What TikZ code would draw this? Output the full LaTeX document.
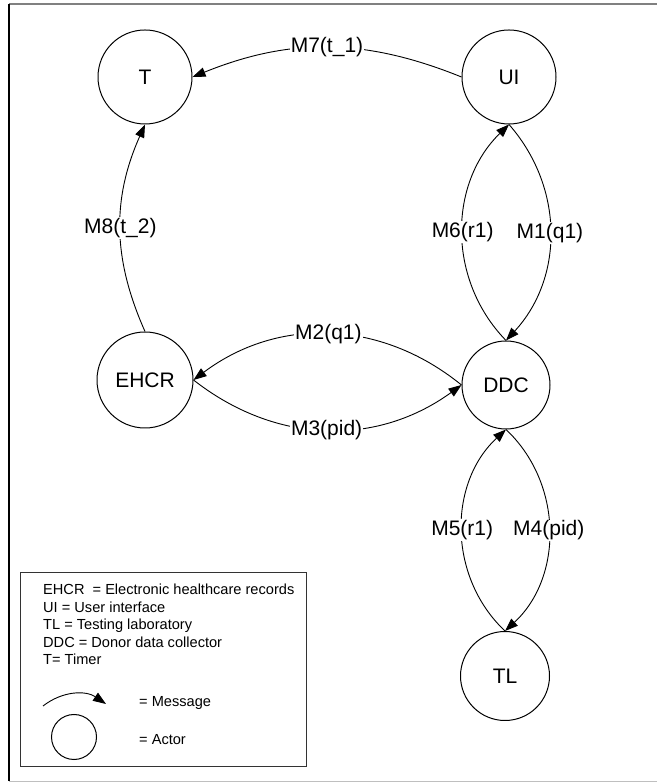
\documentclass[tikz,border=0pt]{standalone}
\usepackage{fontspec}
\setmainfont{Liberation Sans}
\usetikzlibrary{arrows.meta}

\tikzset{
  actor/.style={circle, draw, line width=1pt, minimum size=94pt, inner sep=0pt,
    font=\fontsize{21}{25}\selectfont},
  msg/.style={line width=0.9pt, -{Triangle[length=13pt,width=9.5pt]}},
  msglabel/.style={fill=white, inner sep=1pt, font=\fontsize{21}{25}\selectfont},
  legtext/.style={anchor=base west, inner sep=0pt, font=\fontsize{14.6}{17}\selectfont}
}

\begin{document}
\begin{tikzpicture}[x=1pt,y=1pt]
		\useasboundingbox (0,0) rectangle (657,783);
		% frame
		\draw[gray, line width=2pt] (9,779) -- (657,779);
		\draw[black!25, line width=1.5pt] (9,1.5) -- (657,1.5);
		\draw[line width=1.5pt] (9,779) -- (9,1.5);

		% actors
		\node[actor] (T) at (145,706) {T};
		\node[actor] (UI) at (509,706) {UI};
		\node[actor, minimum size=96pt] (EHCR) at (145,403) {EHCR};
		\node[actor, minimum size=88pt] (DDC) at (506,398) {DDC};
		\node[actor, minimum size=89pt] (TL) at (505,107) {TL};

		% messages
		\draw[msg] (UI.west) to[bend right=22] node[msglabel]{M7(t\_1)} (T.east);
		\draw[msg] (EHCR.north) to[bend left=24] node[msglabel]{M8(t\_2)} (T.south);
		\draw[msg] (DDC.north) to[bend left=45] node[msglabel]{M6(r1)} (UI.south);
		\draw[msg] (UI.south) to[bend left=42] node[msglabel]{M1(q1)} (DDC.north);
		\draw[msg] (DDC.west) to[bend right=38] node[msglabel]{M2(q1)} (EHCR.east);
		\draw[msg] (EHCR.east) to[bend right=37] node[msglabel]{M3(pid)} (DDC.west);
		\draw[msg] (TL.north) to[bend left=47] node[msglabel]{M5(r1)} (DDC.south);
		\draw[msg] (DDC.south) to[bend left=47] node[msglabel]{M4(pid)} (TL.north);

		% legend
		\draw[line width=1pt, black!80] (20,16) rectangle (306,210);
		\foreach \txt [count=\i] in {EHCR\ \ = Electronic healthcare records, UI = User interface,
		  TL = Testing laboratory, DDC = Donor data collector, T= Timer}
		  \node[legtext] (leg\i) at (43,188-17.5*\i+17.5) {\txt};
		\coordinate (msgA) at (43,77);
		\coordinate (msgB) at (106,79);
		\draw[msg] (msgA) to[bend left=36] (msgB);
		\node[legtext, anchor=west] (legmsg) at (139,80) {= Message};
		\node[circle, draw, line width=1pt, minimum size=45pt] (legactor) at (74,46) {};
		\node[legtext, anchor=west] (legact) at (139,43) {= Actor};
	\end{tikzpicture}
\end{document}
